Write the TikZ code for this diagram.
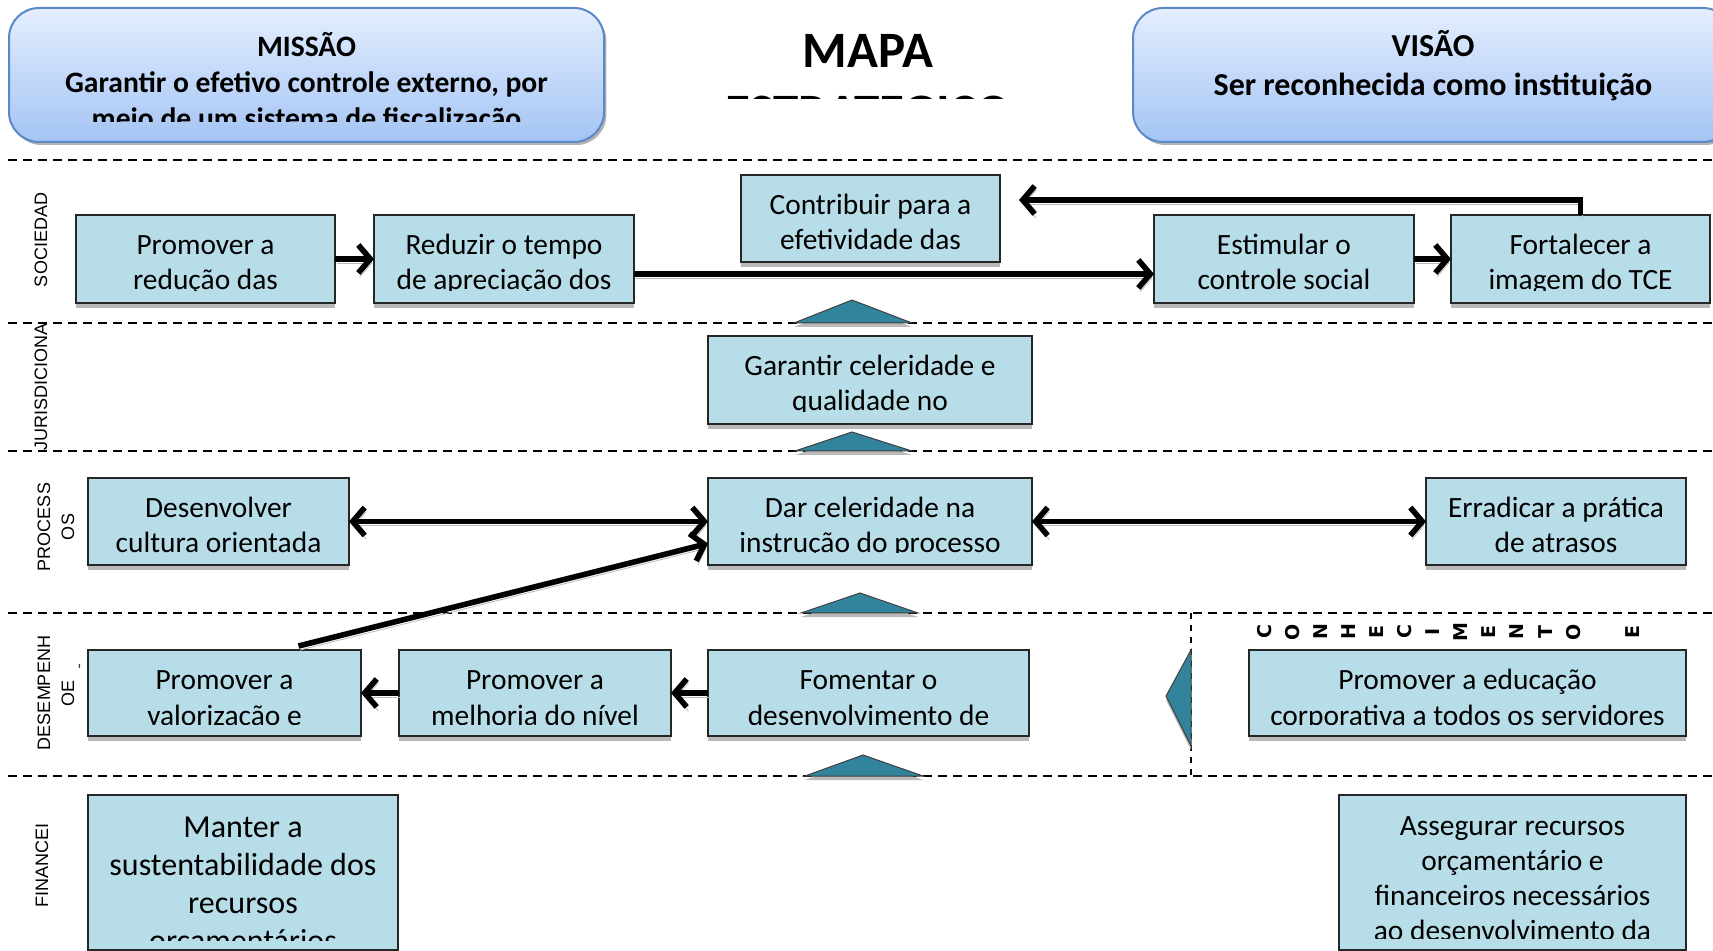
\documentclass[tikz,border=0pt]{standalone}
\usepackage{fontspec}
\setmainfont{Carlito}
\newfontfamily\lanefont{Liberation Sans}
\newfontfamily\knowfont{DejaVu Sans}
\usetikzlibrary{arrows.meta,shadows}

\definecolor{goalfill}{HTML}{B7DEE8}
\definecolor{trifill}{HTML}{31849B}
\definecolor{headtop}{HTML}{E4EEFE}
\definecolor{headbot}{HTML}{A4C4F4}
\definecolor{headline}{HTML}{5A8AC6}

\begin{document}
\begin{tikzpicture}[x=0.5pt, y=-0.5pt]
	\tikzstyle{goal}  = [draw=black!85, line width=0.7pt, fill=goalfill, inner sep=0pt, outer sep=0pt, anchor=north west, drop shadow={shadow xshift=0pt, shadow yshift=-2.5pt, fill=gray!55, opacity=1}]
	\tikzstyle{goaltext} = [align=center, inner sep=0pt, outer sep=0pt, anchor=north, font=\fontsize{14.7}{17.5}\selectfont]
	\tikzstyle{head}  = [draw=headline, line width=1pt, rounded corners=15pt, top color=headtop, bottom color=headbot, inner sep=0pt, outer sep=0pt, anchor=north west, drop shadow={shadow xshift=1.2pt, shadow yshift=-1.5pt, fill=gray!60, opacity=1}]
	\tikzstyle{headtext} = [align=center, inner sep=0pt, outer sep=0pt, anchor=north]
	\tikzstyle{title} = [inner sep=0pt, font=\bfseries\fontsize{25.5}{31}\selectfont]
	\tikzstyle{lane}  = [line width=1pt, dash pattern=on 4.5pt off 3pt]
	\tikzstyle{vlane} = [line width=0.6pt, dash pattern=on 3pt off 3pt]
	\tikzstyle{lanelabel} = [rotate=90, align=center, inner sep=0pt, font=\lanefont\fontsize{9}{12}\selectfont]
	\tikzstyle{know}  = [rotate=90, inner sep=0pt, font=\knowfont\bfseries\fontsize{9.5}{10}\selectfont]
	\tikzstyle{tri}   = [fill=trifill, draw=black!75, line width=0.5pt, preaction={fill=gray!55, transform canvas={yshift=-2pt}}]
	\tikzstyle{arr}   = [line width=2.8pt, -{Straight Barb[length=6pt,width=14pt]}, preaction={draw=gray!55, transform canvas={shift={(0.8pt,-2pt)}}}]
	\tikzstyle{darr}  = [arr, {Straight Barb[length=6pt,width=14pt]}-{Straight Barb[length=6pt,width=14pt]}]

	\useasboundingbox (0,0) rectangle (1713,951);
	\clip (0,0) rectangle (1713,951);

	% faixas das perspectivas
	\foreach \y in {160, 323, 451, 613, 776}
		\draw[lane] (8,\y) -- (1713,\y);
	\draw[vlane] (1191,613) -- (1191,776);

	% missao, titulo e visao
	\node[head, minimum width=595*0.5pt, minimum height=134*0.5pt] (missao) at (9,8) {};
	\begin{scope}
		\clip (9,8) rectangle (604,122);
		\node[headtext, font=\bfseries\fontsize{14.8}{18}\selectfont] (missaotxt) at ([yshift=-11.9pt]missao.north) {\strut MISSÃO\\Garantir o efetivo controle externo, por\\meio de um sistema de fiscalização};
	\end{scope}
	\node[head, minimum width=600*0.5pt, minimum height=134*0.5pt] (visao) at (1133,8) {};
	\node[headtext, font=\bfseries\fontsize{16}{19.5}\selectfont] (visaotxt) at ([yshift=-10.85pt]visao.north) {\strut VISÃO\\Ser reconhecida como instituição};

	\node[title, anchor=base] (mapa) at (868,68) {MAPA};
	\begin{scope}
		\clip (700,95.5) rectangle (1040,98.5);
		\node[title, anchor=base] (estrat) at (868,130) {ESTRATÉGICO};
	\end{scope}

	% setas entre niveis
	\draw[tri] (794,323) -- (852,300) -- (912,323) -- cycle;
	\draw[tri] (795,451) -- (852,432) -- (912,451) -- cycle;
	\draw[tri] (801,613) -- (860,593) -- (918,613) -- cycle;
	\draw[tri] (805,776) -- (863,755) -- (923,776) -- cycle;
	\draw[tri] (1191,650) -- (1166,696) -- (1191,746) -- cycle;

	% objetivos
	\foreach \name/\x/\y/\w/\h/\txt in {
		promred/76/215/259/88/{Promover a\\redução das},
		reduz/374/215/260/88/{Reduzir o tempo\\de apreciação dos},
		contrib/741/175/259/87/{Contribuir para a\\efetividade das},
		estim/1154/215/260/88/{Estimular o\\controle social},
		fort/1451/215/259/88/{Fortalecer a\\imagem do TCE},
		garant/708/336/324/88/{Garantir celeridade e\\qualidade no},
		desenv/88/478/261/87/{Desenvolver\\cultura orientada},
		darcel/708/478/324/87/{Dar celeridade na\\instrução do processo},
		errad/1426/478/260/87/{Erradicar a prática\\de atrasos},
		valor/88/650/273/86/{Promover a\\valorização e},
		melhor/399/650/272/86/{Promover a\\melhoria do nível},
		foment/708/650/321/86/{Fomentar o\\desenvolvimento de},
		educ/1249/650/437/86/{Promover a educação\\corporativa a todos os servidores},
		asseg/1339/795/347/155/{Assegurar recursos\\orçamentário e\\financeiros necessários\\ao desenvolvimento da}}
	{
		\node[goal, minimum width=\w*0.5pt, minimum height=\h*0.5pt] (\name) at (\x,\y) {};
		\begin{scope}
			\clip (\x,\y) rectangle ++(\w,\h-12);
			\node[goaltext] (\name txt) at ([yshift=-7.75pt]\name.north) {\strut\txt};
		\end{scope}
	}
	\node[goal, minimum width=310*0.5pt, minimum height=155*0.5pt] (manter) at (88,795) {};
	\begin{scope}
		\clip (88,795) rectangle ++(310,145);
		\node[goaltext, font=\fontsize{16}{19}\selectfont] (mantertxt) at ([yshift=-7.75pt]manter.north) {\strut Manter a\\sustentabilidade dos\\recursos\\orçamentários};
	\end{scope}

	% nomes das perspectivas
	\node[lanelabel] (soc) at (41,240) {SOCIEDAD};
	\node[lanelabel] (jur) at (41,387) {JURISDICIONA};
	\node[lanelabel] (proc) at (56,527) {PROCESS\\OS};
	\node[lanelabel] (desemp) at (56,693) {DESEMPENH\\OE};
	\node[lanelabel, font=\lanefont\fontsize{6}{6}\selectfont] (til) at (83,667) {˜};
	\node[lanelabel] (fin) at (42,865) {FINANCEI};

	\foreach \ch [count=\i] in {C,O,N,H,E,C,I,M,E,N,T,O}
		\node[know] (know\i) at (1236+28.1*\i, 632) {\ch};
	\node[know] (knowe) at (1633,632) {E};

	% ligacoes
	\foreach \from/\to in {promred/reduz, estim/fort}
		\draw[arr] (\from.east) -- (\to.west);
	\draw[arr] ([yshift=-7.5pt]reduz.east) -- ([yshift=-7.5pt]estim.west);
	\draw[arr] (fort.north) |- ([xshift=9.5pt,yshift=9.25pt]contrib.east);
	\foreach \from/\to in {desenv/darcel, darcel/errad}
		\draw[darr] (\from.east) -- (\to.west);
	\foreach \from/\to in {foment/melhor, melhor/valor}
		\draw[arr] (\from.west) -- (\to.east);
	\draw[arr] ([xshift=37pt,yshift=2pt]valor.north) -- ([yshift=-11pt]darcel.west);
\end{tikzpicture}
\end{document}
